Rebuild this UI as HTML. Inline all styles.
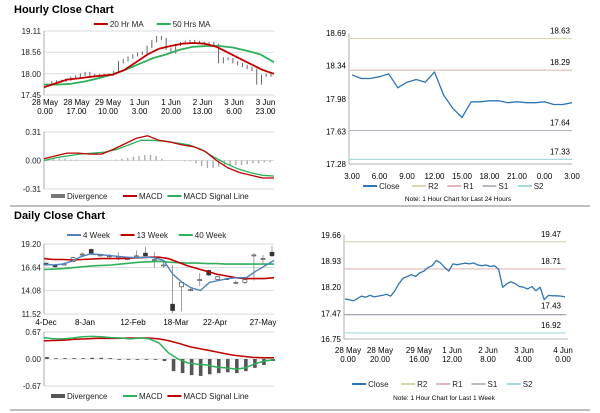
<!DOCTYPE html>
<html><head><meta charset="utf-8"><style>
body{margin:0;background:#fff}
svg{display:block;font-family:"Liberation Sans",Arial,sans-serif}
</style></head><body>
<svg id="s" width="600" height="413" xmlns="http://www.w3.org/2000/svg">
<text x="14" y="13" font-size="11" font-weight="bold">Hourly Close Chart</text>
<text x="14" y="219" font-size="11" font-weight="bold">Daily Close Chart</text>
<line x1="10" y1="206" x2="590" y2="206" stroke="#aaa" stroke-width="1.5"/>
<line x1="10" y1="410" x2="590" y2="410" stroke="#aaa" stroke-width="1.5"/>
<g id="g"></g>
</svg>
<script>
// ---- data ----
const hCloseL=[17.72,17.78,17.8,17.82,17.85,17.9,17.93,17.98,18.02,17.97,17.95,17.96,17.97,17.98,18.05,18.3,18.35,18.42,18.48,18.52,18.55,18.7,18.85,18.95,18.9,18.65,18.55,18.75,18.8,18.82,18.85,18.82,18.8,18.78,18.8,18.75,18.3,18.4,18.38,18.3,18.25,18.2,18.15,18.1,17.75,17.95,17.97,17.95];
const hMA20=[17.65,17.75,17.85,17.88,17.92,17.95,17.98,18.1,18.3,18.5,18.65,18.72,18.78,18.8,18.78,18.7,18.55,18.4,18.25,18.1,18.0];
const hMA50=[17.72,17.72,17.74,17.8,17.88,17.98,18.1,18.25,18.4,18.5,18.62,18.7,18.72,18.72,18.68,18.6,18.5,18.3];
const hMacd=[0.02,0.05,0.08,0.08,0.07,0.07,0.12,0.18,0.24,0.27,0.22,0.2,0.17,0.15,0.1,0.0,-0.08,-0.13,-0.16,-0.19,-0.19];
const hSig=[0.0,0.03,0.05,0.07,0.08,0.09,0.12,0.17,0.22,0.22,0.21,0.19,0.17,0.12,0.04,-0.03,-0.09,-0.13,-0.16,-0.17];
const hDiv=[0.01,0.02,0.02,0.02,0.01,0.01,0.0,0.0,0.0,0.0,0.0,0.0,0.01,0.02,0.03,0.04,0.05,0.06,0.06,0.05,0.02,0.0,0.0,0.0,-0.01,-0.01,-0.03,-0.06,-0.08,-0.08,-0.07,-0.06,-0.06,-0.05,-0.05,-0.04,-0.03,-0.03,-0.02,-0.02];
const hXTicks=[["28 May","0.00"],["28 May","17.00"],["29 May","10.00"],["1 Jun","3.00"],["1 Jun","20.00"],["2 Jun","13.00"],["3 Jun","6.00"],["3 Jun","23.00"]];
const rClose=[18.24,18.2,18.2,18.22,18.25,18.1,18.16,18.19,18.16,18.27,18.02,17.88,17.78,17.95,17.95,17.96,17.96,17.94,17.95,17.94,17.94,17.95,17.92,17.92,17.94];
const rLevels=[18.63,18.29,17.64,17.33];
const rXTicks=["3.00","6.00","9.00","12.00","15.00","18.00","21.00","0.00","3.00"];
const dOpen=[17.1,16.9,17.0,17.3,18.1,18.6,18.0,17.9,17.8,17.6,17.9,18.2,17.5,16.9,12.6,14.5,14.2,15.3,16.3,15.3,15.4,15.0,15.0,17.9,17.5,18.3];
const dClose=[16.9,16.7,17.0,17.7,18.1,18.2,18.0,17.9,17.8,17.6,17.9,17.9,17.5,16.9,11.9,15.0,14.2,15.3,15.8,15.6,15.4,15.0,15.3,18.0,17.6,17.9];
const dHigh=[17.2,17.0,17.1,17.8,18.3,18.7,18.1,18.1,18.3,17.8,18.5,18.9,18.3,17.3,16.9,15.1,14.4,16.0,16.4,15.7,15.5,15.2,15.6,18.2,18.0,19.0];
const dLow=[16.8,16.6,16.9,17.2,17.9,18.1,17.9,17.6,17.4,17.4,17.6,17.8,16.6,16.6,11.6,11.8,14.0,14.6,15.7,15.2,15.3,14.8,14.8,15.2,17.0,17.8];
const d4w=[17.0,16.9,17.0,17.3,17.8,18.1,18.05,17.95,17.85,17.75,17.7,17.75,17.7,17.4,15.9,15.0,14.4,14.1,15.0,15.2,15.4,15.5,15.5,16.2,16.8,17.4];
const d13w=[17.6,17.5,17.5,17.45,17.5,17.55,17.6,17.6,17.6,17.65,17.7,17.75,17.75,17.6,17.2,16.8,16.5,16.2,15.9,15.7,15.5,15.4,15.4,15.4,15.5];
const d40w=[16.4,16.45,16.5,16.6,16.7,16.8,16.85,16.9,17.0,17.1,17.2,17.25,17.3,17.2,17.15,17.1,17.1,17.05,17.05,17.0,17.0,17.0,17.0,17.0,17.0];
const dMacd=[0.53,0.5,0.5,0.52,0.55,0.56,0.55,0.53,0.52,0.5,0.52,0.5,0.4,0.15,0.0,-0.1,-0.13,-0.15,-0.2,-0.22,-0.25,-0.22,-0.12,-0.05,-0.02];
const dSig=[0.45,0.46,0.47,0.49,0.5,0.51,0.51,0.51,0.52,0.52,0.52,0.5,0.45,0.38,0.3,0.25,0.2,0.15,0.1,0.07,0.04,0.03,0.03];
const dDiv=[0.05,0.02,0.02,0.02,0.02,0.03,0.03,0.02,0.0,0.0,0.0,-0.01,-0.02,-0.05,-0.3,-0.35,-0.4,-0.42,-0.38,-0.35,-0.33,-0.35,-0.3,-0.22,-0.15,-0.05];
const dXTicks=["4-Dec","8-Jan","12-Feb","18-Mar","22-Apr","27-May"];
const wClose=[17.87,17.85,17.82,17.88,17.95,17.92,17.97,17.93,17.95,17.97,18.0,17.95,18.1,18.3,18.45,18.5,18.55,18.5,18.6,18.65,18.75,18.8,18.95,18.88,18.75,18.65,18.85,18.83,18.85,18.87,18.85,18.88,18.82,18.8,18.82,18.78,18.8,18.7,18.2,18.3,18.35,18.3,18.22,18.2,18.15,18.22,18.1,18.2,17.85,17.97,17.96,17.96,17.95,17.93];
const wLevels=[19.47,18.71,17.43,16.92];
const wXTicks=[["28 May","0.00"],["28 May","20.00"],["29 May","16.00"],["1 Jun","12.00"],["2 Jun","8.00"],["3 Jun","4.00"],["4 Jun","0.00"]];
const levNames=["R2","R1","S1","S2"], levColors=["#d9d6b0","#e2b7b7","#b9b7c9","#a9d9e0"];

// ---- helpers ----
const NS="http://www.w3.org/2000/svg", G=document.getElementById('g');
function mk(t,a,txt){const e=document.createElementNS(NS,t);for(const k in a)e.setAttribute(k,a[k]);if(txt!=null)e.textContent=txt;G.appendChild(e);return e;}
function scale(d0,d1,p0,p1){return v=>p0+(v-d0)/(d1-d0)*(p1-p0);}
function path(arr,x0,x1,y,color,w,name){
  const n=arr.length;let d="";
  arr.forEach((v,i)=>{d+=(i?"L":"M")+(x0+i*(x1-x0)/(n-1)).toFixed(1)+","+y(v).toFixed(1);});
  const e=mk('path',{d:d,fill:'none',stroke:color,'stroke-width':w,'stroke-linejoin':'round'});
  
  
}
function yAxis(x,x2,ticks,y,name,grid){
  ticks.forEach(t=>{
    const l=mk('line',{x1:x,x2:x2,y1:y(t),y2:y(t),stroke:grid||'#ccc','stroke-width':0.7});
    
    
    const tx=mk('text',{x:x-3,y:y(t)+3,'font-size':8,'text-anchor':'end',fill:'#222'},t.toFixed(2));
    
    
  });
}
function legend(items,cx,y,name){
  let tot=0;items.forEach(it=>tot+=16+it[0].length*4.6+10);
  let x=cx-tot/2;
  items.forEach(it=>{
    const sw=it[2]==='bar'?mk('rect',{x:x,y:y-3,width:14,height:4,fill:it[1]}):mk('line',{x1:x,x2:x+14,y1:y-1,y2:y-1,stroke:it[1],'stroke-width':2});
    
    
    const t=mk('text',{x:x+16,y:y+2,'font-size':8,fill:'#222'},it[0]);
    
    
    x+=16+it[0].length*4.6+10;
  });
}
function axisLine(x,y0,y1){const l=mk('line',{x1:x,x2:x,y1:y0,y2:y1,stroke:'#999','stroke-width':0.8});}

// ---- Hourly left ----
(function(){
  const X0=44,X1=274,y=scale(17.45,19.11,95,31);
  legend([["20 Hr MA","#c00000"],["50 Hrs MA","#2eb05b"]],159,25,'hourly-legend');
  yAxis(X0,X1,[19.11,18.56,18.00,17.45],y,'hourly-y');
  axisLine(X0,31,95);
  const n=hCloseL.length;
  hCloseL.forEach((v,i)=>{
    const x=X0+3+i*(X1-X0-6)/(n-1),p=i?hCloseL[i-1]:v;
    const c=mk('line',{x1:x,x2:x,y1:y(Math.max(v,p)+0.03),y2:y(Math.min(v,p)-0.03),stroke:'#666','stroke-width':1});
    
    
  });
  path(hMA50,X0,X1,y,'#2eb05b',1.8,'ma50-line');
  path(hMA20,X0,X1,y,'#c00000',1.8,'ma20-line');
  hXTicks.forEach((t,i)=>{const x=45+i*31.5;
    const a=mk('text',{x:x,y:105,'font-size':8,'text-anchor':'middle'},t[0]);
    const b=mk('text',{x:x,y:114,'font-size':8,'text-anchor':'middle'},t[1]);});
  const m=scale(-0.31,0.31,189,132);
  yAxis(X0,X1,[0.31,0.00,-0.31],m,'hourly-macd-y');
  axisLine(X0,132,189);
  const nd=hDiv.length;
  hDiv.forEach((v,i)=>{const x=X0+4+i*(X1-X0-8)/(nd-1);
    const r=mk('rect',{x:x-0.7,y:Math.min(m(v),m(0)),width:1.4,height:Math.abs(m(v)-m(0)),fill:'#aaa'});
    });
  path(hSig,X0,X1,m,'#2eb05b',1.3,'hourly-macd-signal-line');
  path(hMacd,X0,X1,m,'#c00000',1.3,'hourly-macd-line');
  legend([["Divergence","#777","bar"],["MACD","#c00000"],["MACD Signal Line","#2eb05b"]],159,197,'hourly-macd-legend');
})();

// ---- Hourly right (24h) ----
(function(){
  const X0=352,X1=572,y=scale(17.28,18.69,164,33);
  axisLine(349,33,164);
  [18.69,18.34,17.98,17.63,17.28].forEach(t=>{const tx=mk('text',{x:346,y:y(t)+3,'font-size':8,'text-anchor':'end'},t.toFixed(2));});
  const xl=mk('line',{x1:349,x2:X1,y1:164,y2:164,stroke:'#999','stroke-width':0.8});
  rLevels.forEach((v,i)=>{
    const l=mk('line',{x1:349,x2:X1,y1:y(v),y2:y(v),stroke:levColors[i],'stroke-width':1.2});
    
    const t=mk('text',{x:560,y:y(v)-5,'font-size':8,'text-anchor':'middle'},v.toFixed(2));
    });
  path(rClose,X0,X1,y,'#2e75b6',1.3,'24h-close-line');
  rXTicks.forEach((t,i)=>{const x=X0+i*(X1-X0)/8;
    const a=mk('text',{x:x,y:179,'font-size':8,'text-anchor':'middle'},t);});
  legend([["Close","#2e75b6"],["R2",levColors[0]],["R1",levColors[1]],["S1",levColors[2]],["S2",levColors[3]]],458,187,'24h-legend');
  const n=mk('text',{x:458,y:201,'font-size':6.5,'text-anchor':'middle'},"Note: 1 Hour Chart for Last 24 Hours");
})();

// ---- Daily ----
(function(){
  const X0=44,X1=274,y=scale(11.52,19.20,314,244),SP=9.04;
  legend([["4 Week","#4f81bd"],["13 Week","#c00000"],["40 Week","#2eb05b"]],152,236,'daily-legend');
  yAxis(X0,X1,[19.20,16.64,14.08,11.52],y,'daily-y');
  axisLine(X0,244,314);
  dClose.forEach((c,i)=>{const x=46+i*SP,o=dOpen[i];
    const w=mk('line',{x1:x,x2:x,y1:y(dHigh[i]),y2:y(dLow[i]),stroke:'#888','stroke-width':0.8});
    
    const b=mk('rect',{x:x-2,y:y(Math.max(o,c)),width:4,height:Math.max(1,Math.abs(y(o)-y(c))),fill:c<o?'#333':'#fff',stroke:'#333','stroke-width':0.6});
    });
  path(d40w,X0,X1,y,'#2eb05b',1.6,'40-week-line');
  path(d13w,X0,X1,y,'#c00000',1.6,'13-week-line');
  path(d4w,X0,X1,y,'#4f81bd',1.4,'4-week-line');
  [46,85,133,176,215,263].forEach((x,i)=>{const a=mk('text',{x:x,y:325,'font-size':8,'text-anchor':'middle'},dXTicks[i]);});
  const m=scale(-0.67,0.67,386,332);
  yAxis(X0,X1,[0.67,0.00,-0.67],m,'daily-macd-y');
  axisLine(X0,332,386);
  dDiv.forEach((v,i)=>{const x=47+i*SP;
    const r=mk('rect',{x:x-1.8,y:Math.min(m(v),m(0)),width:3.6,height:Math.max(0.8,Math.abs(m(v)-m(0))),fill:'#555'});
    });
  path(dSig,X0,X1,m,'#c00000',1.5,'daily-macd-signal-line');
  path(dMacd,X0,X1,m,'#2eb05b',1.5,'daily-macd-line');
  legend([["Divergence","#555","bar"],["MACD","#2eb05b"],["MACD Signal Line","#c00000"]],159,397,'daily-macd-legend');
})();

// ---- 1 week ----
(function(){
  const X0=345,X1=565,y=scale(16.75,19.66,339,235);
  axisLine(344,235,339);
  [19.66,18.93,18.20,17.47,16.75].forEach(t=>{const tx=mk('text',{x:341,y:y(t)+3,'font-size':8,'text-anchor':'end'},t.toFixed(2));});
  const xl=mk('line',{x1:344,x2:568,y1:339,y2:339,stroke:'#999','stroke-width':0.8});
  wLevels.forEach((v,i)=>{
    const l=mk('line',{x1:344,x2:566,y1:y(v),y2:y(v),stroke:i==2?'#9a98ad':levColors[i],'stroke-width':1.2});
    
    const t=mk('text',{x:551,y:i==2?y(v)-6:y(v)-5,'font-size':8,'text-anchor':'middle'},v.toFixed(2));
    });
  path(wClose,X0,X1,y,'#2e75b6',1.3,'week-close-line');
  [348,380,419,452,488,524,563].forEach((x,i)=>{
    const a=mk('text',{x:x,y:353,'font-size':8,'text-anchor':'middle'},wXTicks[i][0]);
    const b=mk('text',{x:x,y:362,'font-size':8,'text-anchor':'middle'},wXTicks[i][1]);});
  legend([["Close","#2e75b6"],["R2",levColors[0]],["R1",levColors[1]],["S1",levColors[2]],["S2",levColors[3]]],447,385,'week-legend');
  const n=mk('text',{x:444,y:400,'font-size':6.5,'text-anchor':'middle'},"Note: 1 Hour Chart for Last 1 Week");
})();
</script>
</body></html>
